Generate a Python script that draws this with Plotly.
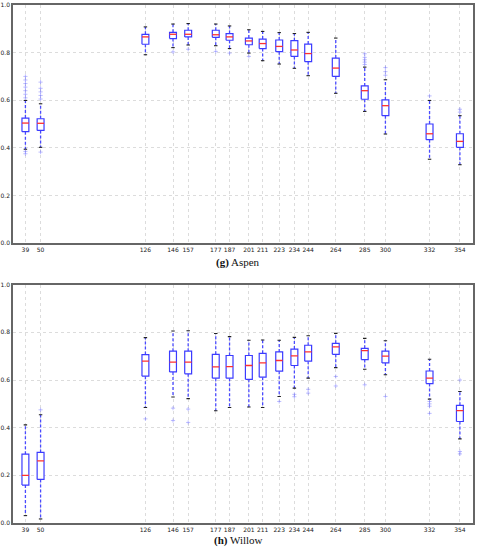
import plotly.graph_objects as go
from plotly.subplots import make_subplots

days = [39, 50, 126, 146, 157, 177, 187, 201, 211, 223, 234, 244, 264, 285, 300, 332, 354]
tick_labels = [str(d) for d in days]

# Aspen statistics
aspen_lower = [0.394, 0.402, 0.791, 0.821, 0.832, 0.829, 0.817, 0.798, 0.766, 0.752, 0.734, 0.703, 0.629, 0.553, 0.458, 0.352, 0.329]
aspen_q1 = [0.468, 0.473, 0.835, 0.859, 0.866, 0.864, 0.852, 0.833, 0.817, 0.804, 0.784, 0.762, 0.700, 0.604, 0.535, 0.434, 0.402]
aspen_median = [0.504, 0.503, 0.866, 0.877, 0.877, 0.875, 0.866, 0.849, 0.838, 0.826, 0.811, 0.796, 0.735, 0.640, 0.577, 0.459, 0.427]
aspen_q3 = [0.525, 0.522, 0.877, 0.885, 0.894, 0.894, 0.880, 0.861, 0.857, 0.853, 0.850, 0.836, 0.777, 0.660, 0.601, 0.500, 0.459]
aspen_upper = [0.599, 0.585, 0.908, 0.920, 0.922, 0.920, 0.912, 0.896, 0.889, 0.884, 0.880, 0.885, 0.861, 0.739, 0.686, 0.599, 0.535]
aspen_fliers_x = [39, 39, 39, 39, 39, 39, 39, 39, 39, 50, 50, 50, 50, 50, 50, 146, 157, 177, 187, 201,
                  285, 285, 285, 285, 285, 300, 300, 300, 332, 354, 354]
aspen_fliers_y = [0.61, 0.625, 0.64, 0.655, 0.67, 0.685, 0.70, 0.385, 0.375, 0.605, 0.62, 0.635, 0.65, 0.676, 0.382, 0.803, 0.814, 0.805, 0.798, 0.784,
                  0.75, 0.76, 0.77, 0.78, 0.795, 0.705, 0.72, 0.737, 0.618, 0.55, 0.562]

# Willow statistics
willow_lower = [0.031, 0.017, 0.485, 0.529, 0.522, 0.471, 0.485, 0.487, 0.485, 0.531, 0.566, 0.608, 0.652, 0.645, 0.622, 0.520, 0.353]
willow_q1 = [0.159, 0.183, 0.616, 0.634, 0.626, 0.608, 0.608, 0.603, 0.612, 0.637, 0.661, 0.679, 0.708, 0.686, 0.672, 0.585, 0.426]
willow_median = [0.200, 0.261, 0.679, 0.675, 0.675, 0.655, 0.656, 0.661, 0.672, 0.682, 0.701, 0.718, 0.739, 0.723, 0.700, 0.608, 0.472]
willow_q3 = [0.289, 0.296, 0.707, 0.721, 0.721, 0.708, 0.703, 0.703, 0.712, 0.718, 0.730, 0.746, 0.754, 0.733, 0.721, 0.638, 0.494]
willow_upper = [0.412, 0.454, 0.778, 0.806, 0.807, 0.795, 0.782, 0.767, 0.768, 0.767, 0.779, 0.786, 0.796, 0.775, 0.765, 0.687, 0.552]
willow_fliers_x = [50, 126, 146, 146, 157, 157, 223, 234, 234, 244, 244, 264, 264, 285, 300, 332, 332, 332, 332, 354, 354, 354]
willow_fliers_y = [0.475, 0.437, 0.482, 0.430, 0.478, 0.422, 0.510, 0.540, 0.530, 0.561, 0.545, 0.615, 0.575, 0.580, 0.531, 0.510, 0.500, 0.490, 0.460, 0.600, 0.300, 0.290]

BOX_W = 5.0
CAP_W = 2.5

def add_boxes(fig, row, lower, q1, med, q3, upper, fx, fy):
    bx, by, mx, my, wx, wy, cx, cy = [], [], [], [], [], [], [], []
    for d, lo, a, m, b, hi in zip(days, lower, q1, med, q3, upper):
        l, r = d - BOX_W / 2, d + BOX_W / 2
        bx += [l, r, r, l, l, None]
        by += [a, a, b, b, a, None]
        mx += [l, r, None]
        my += [m, m, None]
        wx += [d, d, None, d, d, None]
        wy += [b, hi, None, a, lo, None]
        cx += [d - CAP_W / 2, d + CAP_W / 2, None, d - CAP_W / 2, d + CAP_W / 2, None]
        cy += [hi, hi, None, lo, lo, None]
    fig.add_trace(go.Scatter(x=wx, y=wy, mode="lines", line=dict(color="#4a4aff", width=1.3, dash="3px,2px"),
                             hoverinfo="skip", showlegend=False), row=row, col=1)
    fig.add_trace(go.Scatter(x=cx, y=cy, mode="lines", line=dict(color="#222222", width=1.1),
                             hoverinfo="skip", showlegend=False), row=row, col=1)
    fig.add_trace(go.Scatter(x=bx, y=by, mode="lines", fill="toself", fillcolor="white",
                             line=dict(color="#3b3bff", width=1.2), hoverinfo="skip", showlegend=False), row=row, col=1)
    fig.add_trace(go.Scatter(x=mx, y=my, mode="lines", line=dict(color="#ff3030", width=1.3),
                             hoverinfo="skip", showlegend=False), row=row, col=1)
    fig.add_trace(go.Scatter(x=fx, y=fy, mode="markers",
                             marker=dict(symbol="cross-thin-open", size=3, color="rgba(110,110,255,0.45)",
                                         line=dict(width=1, color="rgba(110,110,255,0.45)")),
                             hoverinfo="skip", showlegend=False), row=row, col=1)

fig = make_subplots(rows=2, cols=1, vertical_spacing=0.08)
add_boxes(fig, 1, aspen_lower, aspen_q1, aspen_median, aspen_q3, aspen_upper, aspen_fliers_x, aspen_fliers_y)
add_boxes(fig, 2, willow_lower, willow_q1, willow_median, willow_q3, willow_upper, willow_fliers_x, willow_fliers_y)

axis_common = dict(showline=True, mirror=True, linecolor="#666666", linewidth=1.5,
                   showgrid=True, gridcolor="#dcdcdc", griddash="dot", gridwidth=1,
                   zeroline=False, ticks="", automargin=False,
                   tickfont=dict(family="DejaVu Sans", size=6, color="#222222"))
for r in (1, 2):
    fig.update_xaxes(range=[30, 363.5], tickmode="array", tickvals=days, ticktext=tick_labels,
                     tickangle=0, row=r, col=1, **axis_common)
    fig.update_yaxes(range=[0, 1.0], tickmode="array", tickvals=[0, 0.2, 0.4, 0.6, 0.8, 1.0],
                     ticktext=["0.0", "0.2", "0.4", "0.6", "0.8", "1.0"], row=r, col=1, **axis_common)

fig.update_layout(
    width=478, height=550,
    margin=dict(l=13, r=5, t=5, b=27),
    paper_bgcolor="white", plot_bgcolor="white",
    showlegend=False,
)
fig.layout.yaxis.domain = [0.5405, 1.0]
fig.layout.yaxis2.domain = [0.0, 0.46]

fig.add_annotation(text="<b>(g)</b> Aspen", xref="paper", yref="paper", x=0.49, y=0.5405,
                   yshift=-19, yanchor="middle", showarrow=False,
                   font=dict(family="Liberation Serif", size=11, color="#111111"))
fig.add_annotation(text="<b>(h)</b> Willow", xref="paper", yref="paper", x=0.49, y=0.0,
                   yshift=-17, yanchor="middle", showarrow=False,
                   font=dict(family="Liberation Serif", size=11, color="#111111"))

fig.write_html("out.html", config={"displayModeBar": False},
               post_script="document.body.style.margin='0';document.body.style.overflow='hidden';")
